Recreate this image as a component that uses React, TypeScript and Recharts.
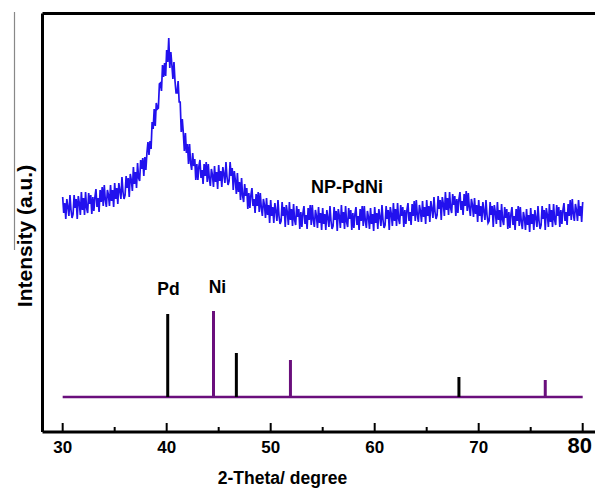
import { LineChart, Line, XAxis, YAxis, ReferenceLine, ReferenceDot } from "recharts";

// 2-theta sampling of the measured pattern, 30..80 deg in 0.1 deg steps
const scanStart = 30;
const scanStep = 0.1;

// NP-PdNi intensity (a.u.), one row per degree
const npPdNi = [
  235, 219, 229, 213, 233, 225, 216, 237, 222, 214,
  218, 237, 224, 233, 213, 236, 229, 217, 240, 222,
  234, 217, 240, 224, 219, 239, 228, 237, 218, 235,
  221, 235, 243, 225, 234, 220, 242, 230, 245, 226,
  247, 232, 225, 242, 237, 226, 247, 231, 242, 225,
  249, 233, 244, 228, 249, 241, 233, 255, 240, 233,
  237, 256, 244, 254, 235, 258, 252, 241, 265, 248,
  260, 244, 269, 254, 251, 272, 263, 274, 256, 275,
  262, 279, 290, 277, 291, 283, 310, 303, 323, 306,
  329, 323, 324, 348, 349, 341, 367, 355, 369, 356,
  382, 370, 394, 364, 380, 367, 353, 370, 351, 339,
  339, 351, 330, 330, 300, 313, 299, 281, 299, 279,
  288, 268, 288, 269, 262, 279, 266, 273, 252, 268,
  252, 266, 272, 254, 262, 248, 268, 256, 270, 250,
  268, 253, 246, 263, 257, 245, 266, 250, 260, 243,
  267, 251, 261, 245, 265, 258, 249, 270, 255, 247,
  251, 270, 256, 264, 242, 261, 252, 238, 259, 240,
  250, 232, 254, 236, 230, 248, 236, 244, 223, 239,
  224, 237, 244, 226, 233, 219, 238, 226, 240, 220,
  239, 224, 216, 233, 227, 214, 234, 217, 227, 209,
  232, 216, 225, 209, 229, 221, 211, 232, 216, 208,
  211, 230, 216, 225, 205, 227, 220, 207, 230, 212,
  223, 206, 228, 212, 207, 226, 215, 223, 203, 220,
  205, 219, 226, 208, 217, 203, 224, 212, 227, 207,
  227, 212, 205, 222, 216, 204, 225, 209, 219, 202,
  224, 208, 218, 202, 222, 214, 205, 226, 211, 203,
  206, 225, 212, 221, 201, 223, 216, 204, 227, 209,
  220, 203, 226, 210, 205, 224, 213, 222, 202, 219,
  204, 218, 225, 207, 216, 202, 223, 211, 226, 206,
  226, 211, 204, 221, 215, 203, 224, 208, 218, 201,
  225, 209, 219, 203, 223, 215, 206, 227, 212, 204,
  207, 226, 213, 222, 202, 225, 218, 206, 229, 211,
  223, 206, 229, 213, 208, 227, 216, 225, 205, 222,
  208, 222, 229, 211, 220, 207, 228, 216, 231, 211,
  232, 217, 210, 227, 221, 210, 231, 215, 225, 208,
  232, 216, 226, 210, 231, 223, 214, 235, 220, 213,
  217, 236, 223, 232, 212, 235, 228, 216, 240, 222,
  234, 217, 240, 224, 219, 238, 227, 236, 216, 233,
  219, 233, 240, 222, 231, 217, 238, 226, 241, 221,
  239, 224, 216, 233, 227, 215, 234, 218, 227, 210,
  232, 216, 226, 210, 230, 221, 212, 232, 217, 209,
  211, 230, 217, 226, 205, 227, 220, 208, 230, 212,
  222, 205, 228, 212, 207, 225, 214, 223, 203, 220,
  204, 218, 225, 207, 216, 202, 223, 211, 226, 206,
  225, 210, 203, 220, 214, 202, 223, 207, 217, 200,
  224, 208, 218, 202, 222, 214, 205, 226, 211, 203,
  207, 226, 213, 222, 202, 224, 217, 205, 228, 210,
  222, 205, 228, 212, 207, 227, 216, 225, 205, 222,
  208, 222, 229, 211, 220, 207, 228, 216, 232, 212,
  233, 218, 211, 228, 222, 211, 232, 216, 226, 210,
  230,
];

// reference patterns (stick positions and heights above the baseline)
const refBase = 35;
const pdPeaks = [40.1, 46.7, 68.1];
const pdHeights = [83, 44, 20];
const niPeaks = [44.5, 51.9, 76.4];
const niHeights = [86, 37, 17];

const xTicks = [30, 35, 40, 45, 50, 55, 60, 65, 70, 75, 80];

const BLUE = "#2211ee";
const PURPLE = "#6a0f7c";
const FONT = "'Liberation Sans', Arial, sans-serif";

const scanData = npPdNi.map((v, i) => ({ x: +(scanStart + i * scanStep).toFixed(1), y: v }));
const baseData = [
  { x: 30, y: refBase },
  { x: 80, y: refBase },
];

const BottomTick = ({ x, y, payload }: any) => {
  const v = payload.value;
  const major = v % 10 === 0;
  const big = v === 80;
  return (
    <g>
      <line x1={x} x2={x} y1={y} y2={y - (major ? 9 : 5)} stroke="#000" strokeWidth={2} />
      {major && (
        <text
          x={x - (big ? 3 : 0)}
          y={y + 21}
          textAnchor="middle"
          fontFamily={FONT}
          fontWeight="bold"
          fontSize={big ? 22 : 17}
          fill="#000"
        >
          {v}
        </text>
      )}
    </g>
  );
};

const textShape = (label: string, size: number) => (p: any) => (
  <text x={p.cx} y={p.cy} textAnchor="middle" fontFamily={FONT} fontWeight="bold" fontSize={size} fill="#000">
    {label}
  </text>
);

export default function App() {
  return (
    <div style={{ position: "absolute", left: 0, top: 0, width: 595, height: 489, overflow: "hidden", background: "#fff" }}>
      <LineChart
        width={610}
        height={489}
        margin={{ top: 12.5, right: 6.5, bottom: 0, left: 41.5 }}
        style={{ fontFamily: FONT }}
      >
        <XAxis
          xAxisId="top"
          orientation="top"
          type="number"
          dataKey="x"
          domain={[28.06, 82]}
          height={1}
          tick={false}
          tickLine={false}
          axisLine={{ stroke: "#000", strokeWidth: 3 }}
        />
        <XAxis
          type="number"
          dataKey="x"
          domain={[28.06, 82]}
          allowDataOverflow
          ticks={xTicks}
          interval={0}
          height={57}
          tickSize={0}
          tickMargin={0}
          tickLine={false}
          axisLine={{ stroke: "#000", strokeWidth: 3 }}
          tick={<BottomTick />}
          label={{
            content: () => (
              <text x={282.5} y={484} textAnchor="middle" fontFamily={FONT} fontWeight="bold" fontSize={17.5} fill="#000">
                2-Theta/ degree
              </text>
            ),
          }}
        />
        <YAxis
          type="number"
          domain={[0, 418.5]}
          width={1}
          tick={false}
          tickLine={false}
          axisLine={{ stroke: "#000", strokeWidth: 3 }}
          label={{
            content: () => (
              <g>
                <line x1={14.5} x2={14.5} y1={12} y2={250} stroke="#888" strokeWidth={1.2} />
                <text
                  x={24}
                  y={236}
                  transform="rotate(-90 24 236)"
                  textAnchor="middle"
                  dominantBaseline="central"
                  fontFamily={FONT}
                  fontWeight="bold"
                  fontSize={21}
                  fill="#000"
                >
                  Intensity (a.u.)
                </text>
              </g>
            ),
          }}
        />
        <Line
          data={baseData}
          dataKey="y"
          stroke={PURPLE}
          strokeWidth={2.5}
          dot={false}
          isAnimationActive={false}
        />
        {pdPeaks.map((p, i) => (
          <ReferenceLine
            key={`pd-${p}`}
            segment={[
              { x: p, y: refBase },
              { x: p, y: refBase + pdHeights[i] },
            ]}
            stroke="#000"
            strokeWidth={3}
          />
        ))}
        {niPeaks.map((p, i) => (
          <ReferenceLine
            key={`ni-${p}`}
            segment={[
              { x: p, y: refBase },
              { x: p, y: refBase + niHeights[i] },
            ]}
            stroke={PURPLE}
            strokeWidth={3}
          />
        ))}
        <Line
          data={scanData}
          dataKey="y"
          stroke={BLUE}
          strokeWidth={1.7}
          dot={false}
          isAnimationActive={false}
        />
        <ReferenceDot x={40.17} y={137} r={0} shape={textShape("Pd", 17.5)} />
        <ReferenceDot x={44.88} y={139} r={0} shape={textShape("Ni", 17.5)} />
        <ReferenceDot x={57.34} y={239} r={0} shape={textShape("NP-PdNi", 18)} />
      </LineChart>
    </div>
  );
}
